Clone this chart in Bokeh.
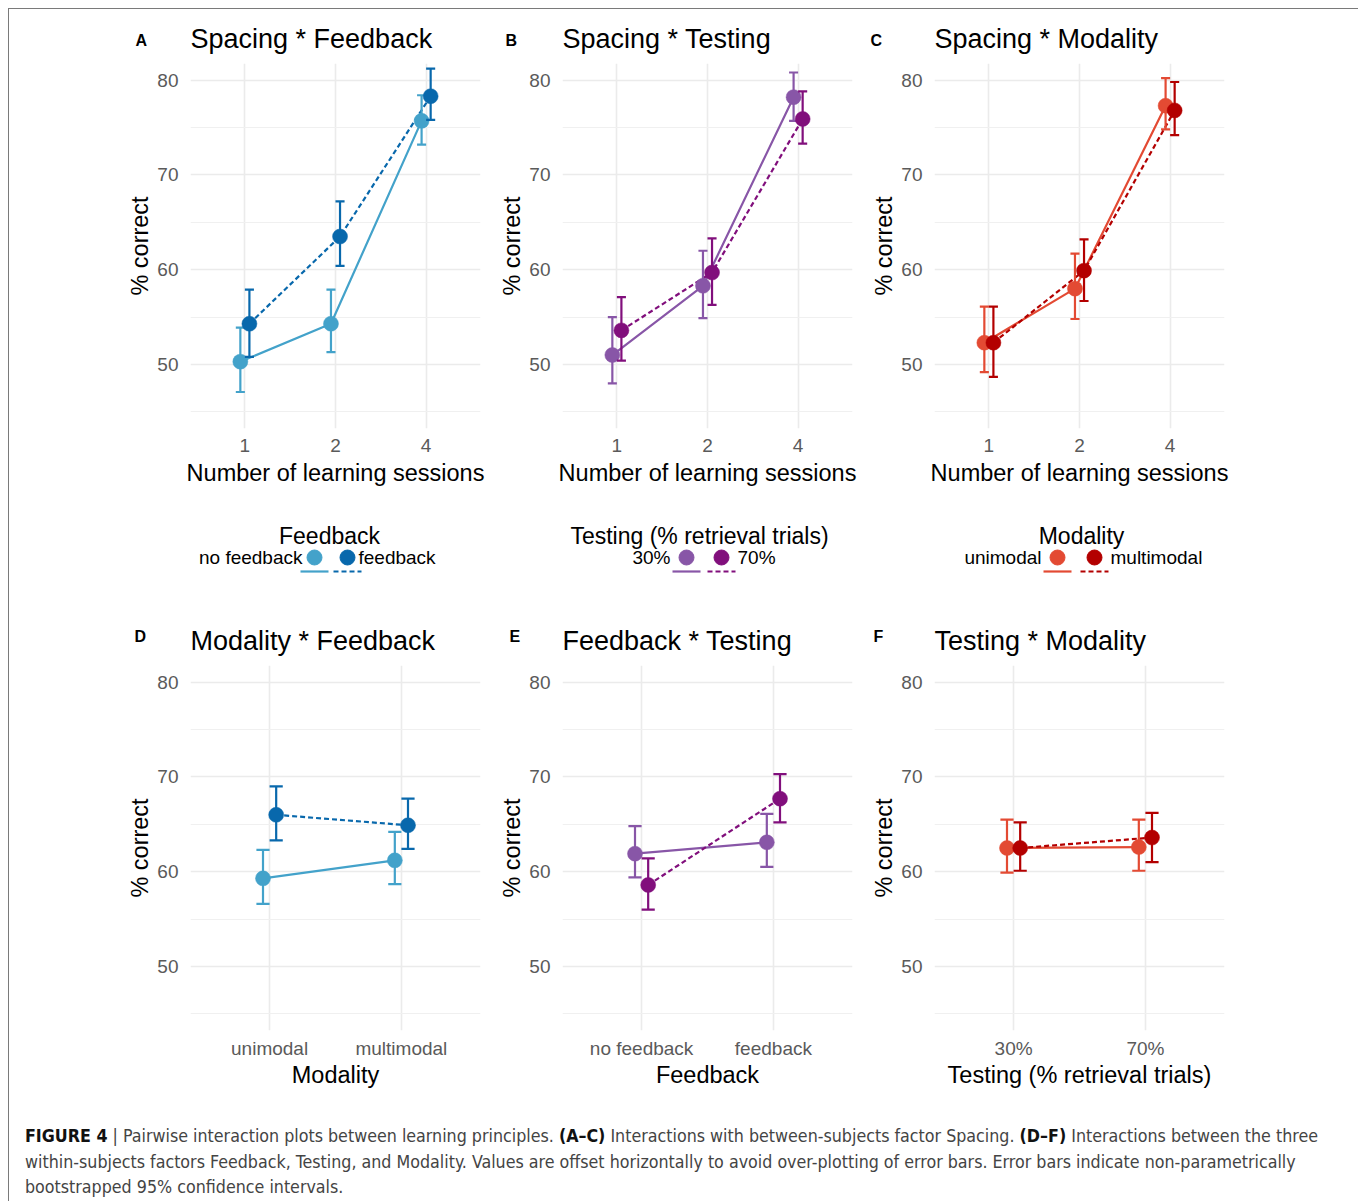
from bokeh.plotting import figure
from bokeh.models import FactorRange, Range1d, FixedTicker, ColumnDataSource, Div, Spacer
from bokeh.transform import dodge
from bokeh.layouts import row, column
from bokeh.embed import file_html
from bokeh.resources import INLINE
from bokeh.core.properties import value

# ---------------- data ----------------
sessions = ["1", "2", "4"]
modality_levels = ["unimodal", "multimodal"]
feedback_levels = ["no feedback", "feedback"]
testing_levels = ["30%", "70%"]

# A: Spacing * Feedback
a_nofb_mean = [50.3, 54.3, 75.7]
a_nofb_lo = [47.1, 51.3, 73.2]
a_nofb_hi = [53.9, 57.9, 78.4]
a_fb_mean = [54.3, 63.5, 78.3]
a_fb_lo = [50.8, 60.4, 75.8]
a_fb_hi = [57.9, 67.2, 81.2]

# B: Spacing * Testing
b_30_mean = [51.0, 58.3, 78.2]
b_30_lo = [48.0, 54.9, 75.7]
b_30_hi = [55.0, 62.0, 80.8]
b_70_mean = [53.6, 59.7, 75.9]
b_70_lo = [50.4, 56.3, 73.3]
b_70_hi = [57.1, 63.3, 78.8]

# C: Spacing * Modality
c_uni_mean = [52.3, 58.0, 77.3]
c_uni_lo = [49.2, 54.8, 74.8]
c_uni_hi = [56.1, 61.7, 80.2]
c_multi_mean = [52.3, 59.9, 76.8]
c_multi_lo = [48.7, 56.7, 74.2]
c_multi_hi = [56.1, 63.2, 79.8]

# D: Modality * Feedback (x = modality)
d_nofb_mean = [59.3, 61.2]
d_nofb_lo = [56.6, 58.7]
d_nofb_hi = [62.3, 64.2]
d_fb_mean = [66.0, 64.9]
d_fb_lo = [63.3, 62.4]
d_fb_hi = [69.0, 67.7]

# E: Feedback * Testing (x = feedback)
e_30_mean = [61.9, 63.1]
e_30_lo = [59.4, 60.5]
e_30_hi = [64.8, 66.1]
e_70_mean = [58.6, 67.7]
e_70_lo = [56.0, 65.2]
e_70_hi = [61.4, 70.3]

# F: Testing * Modality (x = testing)
f_uni_mean = [62.5, 62.6]
f_uni_lo = [59.9, 60.1]
f_uni_hi = [65.5, 65.5]
f_multi_mean = [62.5, 63.6]
f_multi_lo = [60.1, 61.0]
f_multi_hi = [65.2, 66.2]

y_ticks = [50, 60, 70, 80]
y_minor = [45, 55, 65, 75]

caption_html = (
    '<b style="color:#111">FIGURE 4</b> | Pairwise interaction plots between learning principles. '
    '<b style="color:#111">(A–C)</b> Interactions with between-subjects factor Spacing. '
    '<b style="color:#111">(D–F)</b> Interactions between the three<br>'
    'within-subjects factors Feedback, Testing, and Modality. Values are offset horizontally to avoid '
    'over-plotting of error bars. Error bars indicate non-parametrically<br>'
    'bootstrapped 95% confidence intervals.'
)

# ---------------- styling / layout constants ----------------
FONT = "Liberation Sans"
blue_light, blue_dark = "#43A2CA", "#0868AC"
purple_light, purple_dark = "#8856A7", "#810F7C"
red_light, red_dark = "#E34A33", "#B30000"
GRID = "#EBEBEB"
FRAME_W, FRAME_H = 290, 365
DODGE = 0.05
CAP = 0.05
X0, Y0 = 9, 9            # page position of the bordered content box
CONTENT_W = 1346
LEFT_PAD = 109
PANEL_W = 372
BORDER_L = 72
RIGHT_PAD = CONTENT_W - LEFT_PAD - 3 * PANEL_W
HEAD1_H, ROW1_B = 54, 73
LEG_H = 100
HEAD2_H, ROW2_B = 64, 71
CAP_H = 1201 - Y0 - (HEAD1_H + FRAME_H + ROW1_B + LEG_H + HEAD2_H + FRAME_H + ROW2_B)

frame_lefts = [X0 + LEFT_PAD + i * PANEL_W + BORDER_L for i in range(3)]

panels_top = [
    dict(letter="A", title="Spacing * Feedback", factors=sessions, xlabel="Number of learning sessions",
         series=[(a_nofb_mean, a_nofb_lo, a_nofb_hi, blue_light, "solid"),
                 (a_fb_mean, a_fb_lo, a_fb_hi, blue_dark, "5 3")], lx=135),
    dict(letter="B", title="Spacing * Testing", factors=sessions, xlabel="Number of learning sessions",
         series=[(b_30_mean, b_30_lo, b_30_hi, purple_light, "solid"),
                 (b_70_mean, b_70_lo, b_70_hi, purple_dark, "5 3")], lx=505),
    dict(letter="C", title="Spacing * Modality", factors=sessions, xlabel="Number of learning sessions",
         series=[(c_uni_mean, c_uni_lo, c_uni_hi, red_light, "solid"),
                 (c_multi_mean, c_multi_lo, c_multi_hi, red_dark, "5 3")], lx=870),
]
panels_bottom = [
    dict(letter="D", title="Modality * Feedback", factors=modality_levels, xlabel="Modality",
         series=[(d_nofb_mean, d_nofb_lo, d_nofb_hi, blue_light, "solid"),
                 (d_fb_mean, d_fb_lo, d_fb_hi, blue_dark, "5 3")], lx=134),
    dict(letter="E", title="Feedback * Testing", factors=feedback_levels, xlabel="Feedback",
         series=[(e_30_mean, e_30_lo, e_30_hi, purple_light, "solid"),
                 (e_70_mean, e_70_lo, e_70_hi, purple_dark, "5 3")], lx=509),
    dict(letter="F", title="Testing * Modality", factors=testing_levels, xlabel="Testing (% retrieval trials)",
         series=[(f_uni_mean, f_uni_lo, f_uni_hi, red_light, "solid"),
                 (f_multi_mean, f_multi_lo, f_multi_hi, red_dark, "5 3")], lx=873),
]


def make_panel(spec, bottom, tick_standoff, title_standoff):
    p = figure(x_range=FactorRange(factors=spec["factors"], range_padding=0.1, range_padding_units="absolute"),
               y_range=Range1d(43.25, 81.75),
               frame_width=FRAME_W, frame_height=FRAME_H,
               min_border_left=BORDER_L, min_border_right=PANEL_W - BORDER_L - FRAME_W,
               min_border_top=0, min_border_bottom=bottom,
               toolbar_location=None, output_backend="svg", outline_line_color=None)
    ticker = FixedTicker(ticks=y_ticks, minor_ticks=y_minor)
    p.yaxis.ticker = ticker
    p.ygrid.ticker = ticker
    p.grid.grid_line_color = GRID
    p.grid.grid_line_width = 1.6
    p.ygrid.minor_grid_line_color = "#F0F0F0"
    p.ygrid.minor_grid_line_width = 1.0
    p.axis.axis_line_color = None
    p.axis.major_tick_line_color = None
    p.axis.minor_tick_line_color = None
    p.axis.major_label_text_font = FONT
    p.axis.major_label_text_font_size = "19px"
    p.axis.major_label_text_color = "#5a5a5a"
    p.axis.axis_label_text_font = FONT
    p.axis.axis_label_text_font_size = "23.5px"
    p.axis.axis_label_text_font_style = "normal"
    p.axis.axis_label_text_color = "black"
    p.xaxis.axis_label = spec["xlabel"]
    p.yaxis.axis_label = "% correct"
    p.xaxis.major_label_standoff = tick_standoff
    p.yaxis.major_label_standoff = 6
    p.xaxis.axis_label_standoff = title_standoff
    p.yaxis.axis_label_standoff = 1

    offsets = [-DODGE, DODGE]
    srcs = [ColumnDataSource(dict(x=spec["factors"], m=m, lo=lo, hi=hi)) for (m, lo, hi, c, d) in spec["series"]]
    for (m, lo, hi, col, dash), off, src in zip(spec["series"], offsets, srcs):
        p.line(x=dodge("x", off, range=p.x_range), y="m", source=src, line_color=col, line_width=2.2,
               line_dash=dash)
    for (m, lo, hi, col, dash), off, src in zip(spec["series"], offsets, srcs):
        xd = dodge("x", off, range=p.x_range)
        xl = dodge("x", off - CAP, range=p.x_range)
        xr = dodge("x", off + CAP, range=p.x_range)
        p.segment(x0=xd, x1=xd, y0="lo", y1="hi", source=src, line_color=col, line_width=2.2)
        p.segment(x0=xl, x1=xr, y0="lo", y1="lo", source=src, line_color=col, line_width=2.2)
        p.segment(x0=xl, x1=xr, y0="hi", y1="hi", source=src, line_color=col, line_width=2.2)
        p.scatter(x=xd, y="m", source=src, size=15, fill_color=col, line_color=col, line_width=0.5)
    return p


def make_header(specs, top, height, title_cy, letter_cy):
    h = figure(width=CONTENT_W, height=height, x_range=Range1d(X0, X0 + CONTENT_W),
               y_range=Range1d(top + height, top), x_axis_type=None, y_axis_type=None,
               toolbar_location=None, output_backend="svg", min_border=0, outline_line_color=None)
    h.grid.visible = False
    h.text(x=frame_lefts, y=[title_cy] * 3, text=[s["title"] for s in specs], text_font=value(FONT),
           text_font_size="27px", text_align="left", text_baseline="middle", text_color="black")
    h.text(x=[s["lx"] for s in specs], y=[letter_cy] * 3, text=[s["letter"] for s in specs],
           text_font=value(FONT), text_font_size="16px", text_font_style="bold",
           text_align="left", text_baseline="middle", text_color="black")
    return h


head1 = make_header(panels_top, Y0, HEAD1_H, 38, 40)
top_figs = [make_panel(s, ROW1_B, 4, 5) for s in panels_top]
LEG_TOP = Y0 + HEAD1_H + FRAME_H + ROW1_B
HEAD2_TOP = LEG_TOP + LEG_H
head2 = make_header(panels_bottom, HEAD2_TOP, HEAD2_H, 640, 636)
bot_figs = [make_panel(s, ROW2_B, 1, 0) for s in panels_bottom]

# ---------------- legends (drawn in page pixel coordinates) ----------------
lg = figure(width=CONTENT_W, height=LEG_H, x_range=Range1d(X0, X0 + CONTENT_W),
            y_range=Range1d(LEG_TOP + LEG_H, LEG_TOP),
            x_axis_type=None, y_axis_type=None, toolbar_location=None, output_backend="svg",
            min_border=0, outline_line_color=None)
lg.grid.visible = False

legend_specs = [
    dict(title="Feedback", labels=feedback_levels, colors=(blue_light, blue_dark),
         cx=329, l_right=302, c1=314, c2=347, r_left=358),
    dict(title="Testing (% retrieval trials)", labels=testing_levels, colors=(purple_light, purple_dark),
         cx=699, l_right=670, c1=686, c2=721, r_left=737),
    dict(title="Modality", labels=modality_levels, colors=(red_light, red_dark),
         cx=1081, l_right=1041, c1=1057, c2=1094, r_left=1110),
]
TY, IY, LY = 535, 557, 571
for s in legend_specs:
    lg.text(x=[s["cx"]], y=[TY], text=[s["title"]], text_font=value(FONT), text_font_size="23px",
            text_align="center", text_baseline="middle", text_color="black")
    lg.text(x=[s["l_right"]], y=[IY], text=[s["labels"][0]], text_font=value(FONT), text_font_size="19px",
            text_align="right", text_baseline="middle", text_color="black")
    lg.text(x=[s["r_left"]], y=[IY], text=[s["labels"][1]], text_font=value(FONT), text_font_size="19px",
            text_align="left", text_baseline="middle", text_color="black")
    lg.segment(x0=[s["c1"] - 14], x1=[s["c1"] + 14], y0=[LY], y1=[LY], line_color=s["colors"][0], line_width=2.2)
    lg.segment(x0=[s["c2"] - 14], x1=[s["c2"] + 14], y0=[LY], y1=[LY], line_color=s["colors"][1],
               line_width=2.2, line_dash="5 3")
    lg.scatter(x=[s["c1"], s["c2"]], y=[IY, IY], size=15, fill_color=list(s["colors"]),
               line_color=list(s["colors"]))

caption = Div(
    text=('<div style="margin:18px 0 0 11px; white-space:nowrap; '
          "font-family:'Liberation Sans Narrow','DejaVu Sans Condensed',sans-serif; "
          'font-size:17.7px; line-height:25.5px; color:#444;">' + caption_html + '</div>'),
    width=CONTENT_W, height=CAP_H, styles={"overflow": "hidden"})

top_row = row(Spacer(width=LEFT_PAD, height=FRAME_H + ROW1_B), *top_figs,
              Spacer(width=RIGHT_PAD, height=FRAME_H + ROW1_B))
bot_row = row(Spacer(width=LEFT_PAD, height=FRAME_H + ROW2_B), *bot_figs,
              Spacer(width=RIGHT_PAD, height=FRAME_H + ROW2_B))

inner = column(head1, top_row, lg, head2, bot_row, caption,
               styles={"border-top": "1px solid #7a7a7a", "border-left": "1px solid #7a7a7a",
                       "border-right": "1px solid #7a7a7a"})
root = column(Spacer(width=1350, height=X0 - 1), row(Spacer(width=X0 - 1, height=1150), inner))

open("out.html", "w").write(file_html(root, INLINE))
